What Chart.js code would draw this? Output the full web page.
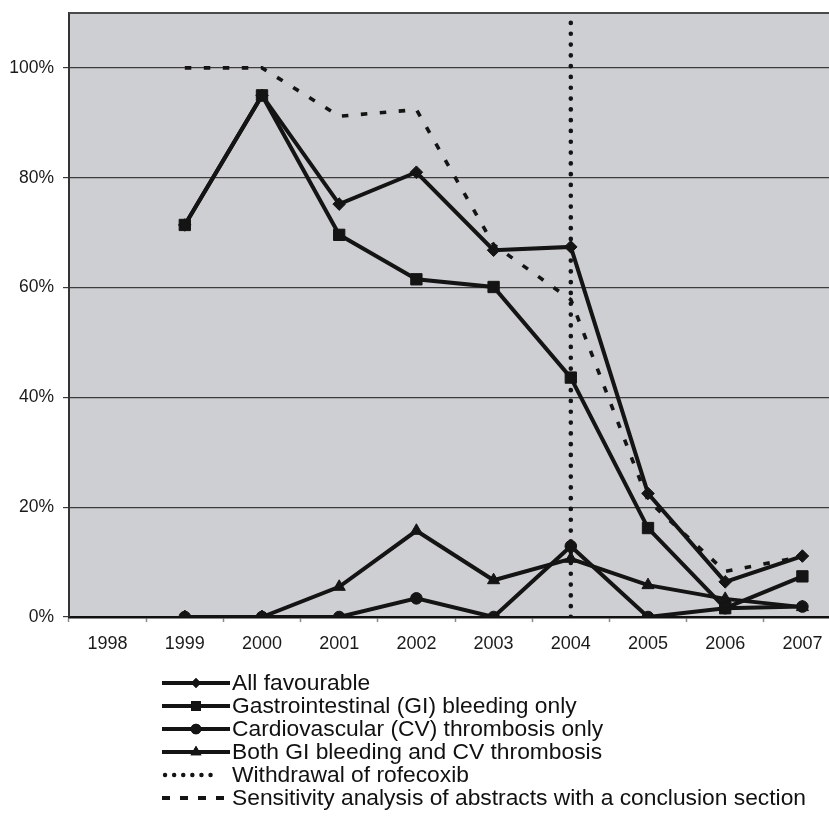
<!DOCTYPE html>
<html>
<head>
<meta charset="utf-8">
<script src="https://cdn.jsdelivr.net/npm/chart.js@4"></script>
<style>
  html, body { margin: 0; padding: 0; background: #fff; overflow: hidden; }
  #wrap { position: absolute; left: 0; top: 0; width: 850px; height: 818px; }
</style>
</head>
<body>
<div id="wrap"><canvas id="grafico"></canvas></div>
<script>
// dados (% de estudos favoráveis por ano)
const anos = ['1998', '1999', '2000', '2001', '2002', '2003', '2004', '2005', '2006', '2007'];
const todosFavoraveis = [null, 71.4, 95.0, 75.2, 81.0, 66.8, 67.4, 22.5, 6.4, 11.1];
const apenasGI = [null, 71.4, 95.0, 69.6, 61.5, 60.1, 43.6, 16.2, 1.6, 7.4];
const apenasCV = [null, 0, 0, 0, 3.4, 0, 12.9, 0, 1.6, 1.9];
const ambosGICV = [null, 0, 0, 5.5, 15.7, 6.7, 10.6, 5.8, 3.3, 1.8];
const sensibilidade = [null, 100, 100, 91.2, 92.4, 67.8, 57.8, 21.2, 8.3, 11.0];
const anoRetirada = '2004';
const yMax = 110;
const yTicks = [0, 20, 40, 60, 80, 100];

const rotulos = [
  'All favourable',
  'Gastrointestinal (GI) bleeding only',
  'Cardiovascular (CV) thrombosis only',
  'Both GI bleeding and CV thrombosis',
  'Withdrawal of rofecoxib',
  'Sensitivity analysis of abstracts with a conclusion section'
];

const PRETO = '#141414';
const FONTE = "'Liberation Sans', Arial, Helvetica, sans-serif";

function serie(label, data, ponto, raio) {
  return {
    label, data, borderColor: PRETO, backgroundColor: PRETO, borderWidth: 4,
    pointStyle: ponto, pointRadius: raio, pointBorderWidth: 1, pointBackgroundColor: PRETO,
    pointBorderColor: PRETO, tension: 0, spanGaps: false
  };
}

const datasets = [
  serie(rotulos[0], todosFavoraveis, 'rectRot', 6.3),
  serie(rotulos[1], apenasGI, 'rect', 8),
  serie(rotulos[2], apenasCV, 'circle', 5.8),
  serie(rotulos[3], ambosGICV, 'triangle', 7),
  { label: rotulos[4], data: [{ x: anoRetirada, y: 0 }, { x: anoRetirada, y: yMax }],
    borderColor: PRETO, borderWidth: 4.6, borderDash: [0.1, 10.7], borderCapStyle: 'round',
    pointRadius: 0, order: 5 },
  { label: rotulos[5], data: sensibilidade, borderColor: PRETO, borderWidth: 3.6,
    borderDash: [6.5, 12.5], pointRadius: 0, tension: 0, order: 4 }
];

// fundo cinza do plot + borda superior
const fundoPlot = {
  id: 'fundoPlot',
  beforeDraw(chart) {
    const { ctx, chartArea: a } = chart;
    ctx.save();
    ctx.fillStyle = '#cecfd2';
    ctx.fillRect(a.left, a.top, a.right - a.left, a.bottom - a.top);
    ctx.restore();
  },
  afterDraw(chart) {
    const { ctx, chartArea: a } = chart;
    ctx.save();
    ctx.strokeStyle = '#4a4a4a';
    ctx.lineWidth = 2;
    ctx.beginPath(); ctx.moveTo(a.left, a.top); ctx.lineTo(a.right, a.top); ctx.stroke();
    ctx.restore();
  }
};

// legenda desenhada à mão, abaixo do gráfico
const legenda = {
  id: 'legenda',
  afterDraw(chart) {
    const ctx = chart.ctx;
    const x0 = 162, x1 = 230, xt = 232, y0 = 683, passo = 23;
    ctx.save();
    ctx.font = '22.8px ' + FONTE;
    ctx.textBaseline = 'middle';
    ctx.fillStyle = '#111';
    chart.data.datasets.forEach((ds, i) => {
      const y = y0 + i * passo;
      ctx.strokeStyle = PRETO;
      ctx.beginPath();
      if (i === 4) {
        ctx.setLineDash([0.1, 9]); ctx.lineCap = 'round'; ctx.lineWidth = 4.4;
        ctx.moveTo(165, y); ctx.lineTo(212, y);
      } else if (i === 5) {
        ctx.setLineDash([8, 10]); ctx.lineCap = 'butt'; ctx.lineWidth = 4;
        ctx.moveTo(162, y); ctx.lineTo(x1, y);
      } else {
        ctx.setLineDash([]); ctx.lineCap = 'butt'; ctx.lineWidth = 4;
        ctx.moveTo(x0, y); ctx.lineTo(x1, y);
      }
      ctx.stroke();
      ctx.setLineDash([]);
      if (i < 4) {
        const r = [5, 7, 5.3, 6.3][i];
        Chart.helpers.drawPoint(ctx, { pointStyle: ds.pointStyle, radius: r, borderWidth: 0 }, (x0 + x1) / 2, y);
        ctx.fillStyle = PRETO; ctx.fill();
      }
      ctx.fillStyle = '#111';
      ctx.fillText(ds.label, xt, y + 1);
    });
    ctx.restore();
  }
};

new Chart(document.getElementById('grafico'), {
  type: 'line',
  data: { labels: anos, datasets },
  plugins: [fundoPlot, legenda],
  options: {
    responsive: true, maintainAspectRatio: false, animation: false,
    layout: { padding: { top: 13, right: 9, left: 0, bottom: 0 } },
    plugins: { legend: { display: false }, tooltip: { enabled: false } },
    scales: {
      x: {
        type: 'category', offset: true,
        grid: { offset: true, drawOnChartArea: false, drawTicks: true, tickLength: 5, tickColor: '#8a8a8a', tickWidth: 1.5 },
        border: { display: true, color: '#111', width: 2.5 },
        ticks: { color: '#1a1a1a', font: { family: FONTE, size: 18 }, padding: 11, maxRotation: 0, autoSkip: false },
        afterFit(s) { s.height = 201; }
      },
      y: {
        min: 0, max: yMax,
        afterBuildTicks(s) { s.ticks = yTicks.concat([yMax]).map(v => ({ value: v })); },
        grid: {
          color: c => c.tick && c.tick.value === yMax ? 'rgba(0,0,0,0)' : '#3c3c3c',
          tickColor: c => c.tick && c.tick.value === yMax ? 'rgba(0,0,0,0)' : '#3c3c3c',
          lineWidth: 1.2, tickLength: 6, drawTicks: true
        },
        border: { display: true, color: '#333', width: 2 },
        ticks: {
          color: '#1a1a1a', font: { family: FONTE, size: 17.5 }, padding: 9,
          callback: v => v === yMax ? '' : v + '%'
        },
        afterFit(s) { s.width = 69; s.paddingTop = 0; s.paddingBottom = 0; }
      }
    }
  }
});
</script>
</body>
</html>
